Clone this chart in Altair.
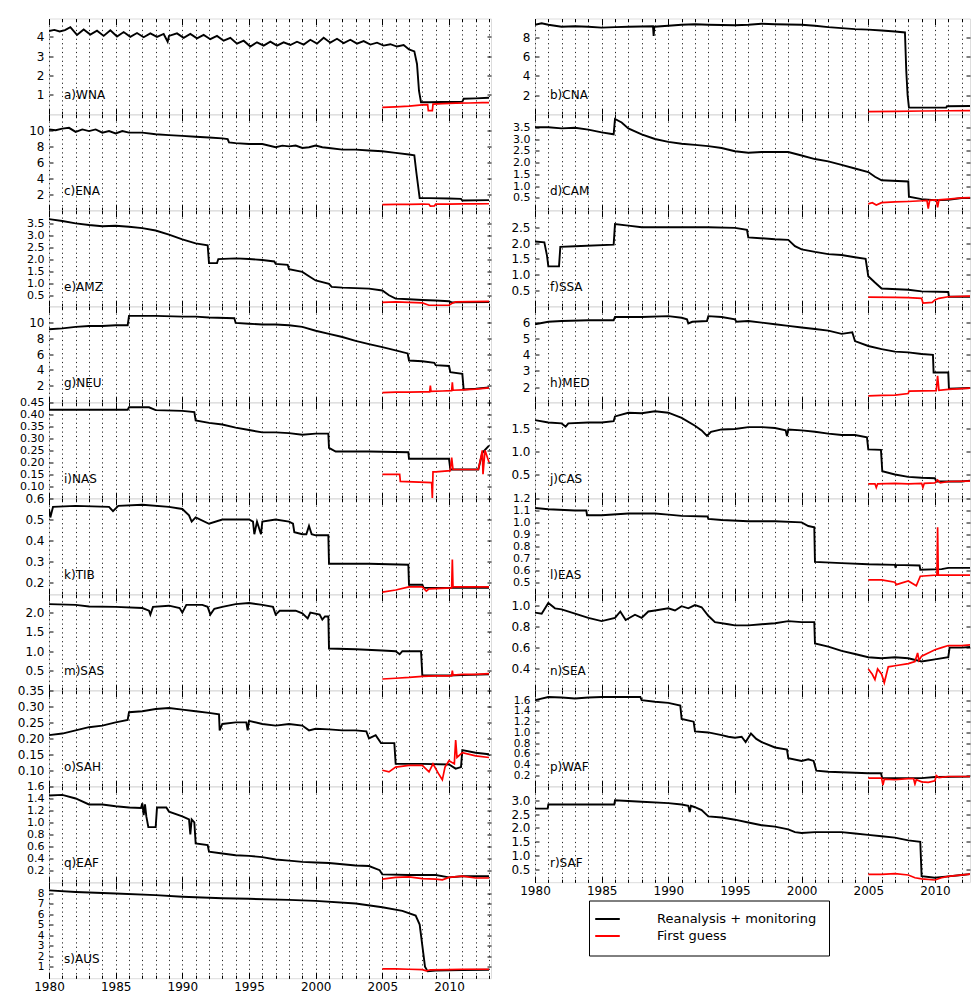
import altair as alt
import pandas as pd

# ---------------- data ----------------
SERIES = ["Reanalysis + monitoring", "First guess"]
YEAR_MAJOR = [1980, 1985, 1990, 1995, 2000, 2005, 2010]
YEAR_MINOR = list(range(1980, 2014))

WNA_REA = [(1980.0,4.30),(1980.4,4.36),(1980.8,4.28),(1981.2,4.35),(1981.6,4.50),(1982.1,4.10),(1982.6,4.38),(1983.1,4.12),(1983.6,4.32),(1984.1,4.05),(1984.6,4.34),(1985.1,4.02),(1985.6,4.25),(1986.1,4.00),(1986.6,4.20),(1987.1,3.98),(1987.6,4.18),(1988.1,4.00),(1988.6,4.15),(1988.9,3.75),(1989.0,4.05),(1989.6,4.18),(1990.1,3.95),(1990.6,4.15),(1991.1,3.92),(1991.6,4.10),(1992.1,3.88),(1992.6,4.05),(1993.1,3.80),(1993.6,3.95),(1994.1,3.65),(1994.6,3.80),(1995.1,3.50),(1995.6,3.72),(1996.1,3.55),(1996.6,3.75),(1997.1,3.55),(1997.6,3.72),(1998.1,3.58),(1998.6,3.75),(1999.1,3.60),(1999.6,3.85),(2000.1,3.65),(2000.6,3.95),(2001.1,3.70),(2001.6,3.90),(2002.1,3.68),(2002.6,3.85),(2003.1,3.65),(2003.6,3.78),(2004.1,3.60),(2004.6,3.70),(2005.1,3.55),(2005.6,3.62),(2006.1,3.50),(2006.6,3.58),(2007.0,3.35),(2007.4,3.25),(2007.6,2.60),(2007.75,1.20),(2007.9,0.62),(2008.5,0.62),(2009.5,0.63),(2010.5,0.63),(2011.0,0.65),(2011.1,0.80),(2012.0,0.82),(2013.0,0.85)]
WNA_FG = [(2005.0,0.35),(2006.0,0.38),(2007.0,0.42),(2008.0,0.48),(2008.4,0.50),(2008.45,0.18),(2008.75,0.18),(2008.8,0.52),(2009.5,0.55),(2010.5,0.57),(2011.5,0.58),(2012.5,0.60),(2013.0,0.60)]

CNA_REA = [(1980.0,9.3),(1980.5,9.45),(1981.0,9.3),(1981.5,9.2),(1982.0,9.1),(1983.0,9.15),(1984.0,9.1),(1985.0,9.0),(1986.0,9.05),(1987.0,9.1),(1988.85,9.15),(1988.9,8.15),(1988.95,9.1),(1990.0,9.2),(1991.0,9.3),(1992.0,9.35),(1993.0,9.3),(1995.0,9.25),(1996.0,9.3),(1997.0,9.4),(1998.0,9.35),(2000.0,9.3),(2001.0,9.2),(2002.0,9.05),(2003.0,8.95),(2004.0,8.85),(2005.0,8.8),(2006.0,8.7),(2007.0,8.6),(2007.75,8.5),(2007.85,4.5),(2007.95,2.0),(2008.05,0.7),(2010.85,0.72),(2010.9,0.85),(2013.0,0.88)]
CNA_FG = [(2005.0,0.28),(2007.0,0.32),(2009.0,0.35),(2011.0,0.38),(2013.0,0.40)]

ENA_REA = [(1980.0,10.1),(1980.5,10.0),(1981.0,10.2),(1981.5,10.3),(1982.0,9.8),(1982.5,10.1),(1983.0,9.9),(1983.5,10.1),(1984.0,9.7),(1984.5,9.9),(1985.0,9.6),(1985.5,9.9),(1986.0,9.7),(1987.0,9.7),(1988.0,9.5),(1989.0,9.4),(1990.0,9.3),(1991.0,9.2),(1992.0,9.1),(1993.0,9.0),(1993.4,8.9),(1993.5,8.5),(1994.0,8.4),(1995.0,8.3),(1996.0,8.3),(1997.0,7.9),(1997.5,8.1),(1998.0,8.0),(1998.5,8.1),(1999.0,7.8),(1999.5,7.9),(2000.0,8.1),(2000.5,7.9),(2001.0,7.8),(2002.0,7.6),(2003.0,7.6),(2004.0,7.5),(2005.0,7.4),(2006.0,7.2),(2007.0,7.0),(2007.4,6.9),(2007.55,4.8),(2007.8,1.6),(2008.5,1.6),(2010.0,1.55),(2010.9,1.5),(2011.0,1.3),(2013.0,1.35)]
ENA_FG = [(2005.0,0.80),(2006.0,0.82),(2007.0,0.82),(2008.0,0.85),(2008.5,0.84),(2008.6,0.60),(2008.9,0.62),(2009.0,0.85),(2010.0,0.85),(2011.0,0.88),(2012.0,0.88),(2013.0,0.90)]

CAM_REA = [(1980.0,3.5),(1981.0,3.5),(1982.0,3.45),(1983.0,3.48),(1984.0,3.4),(1985.0,3.28),(1985.9,3.2),(1986.0,3.85),(1986.5,3.7),(1987.0,3.45),(1988.0,3.2),(1989.0,3.0),(1990.0,2.88),(1991.0,2.8),(1992.0,2.75),(1993.0,2.7),(1994.0,2.62),(1995.0,2.48),(1996.0,2.42),(1997.0,2.45),(1998.0,2.45),(1999.0,2.45),(2000.0,2.3),(2001.0,2.15),(2002.0,2.05),(2003.0,1.9),(2004.0,1.75),(2005.0,1.6),(2005.5,1.4),(2006.0,1.25),(2008.0,1.2),(2008.05,0.55),(2009.0,0.45),(2010.0,0.40),(2011.0,0.42),(2012.0,0.50),(2013.0,0.50)]
CAM_FG = [(2005.0,0.25),(2005.3,0.30),(2005.6,0.20),(2006.0,0.30),(2007.0,0.33),(2008.0,0.35),(2009.0,0.38),(2009.4,0.40),(2009.5,0.05),(2009.6,0.40),(2010.1,0.42),(2010.2,0.10),(2010.3,0.42),(2011.0,0.45),(2012.0,0.50),(2013.0,0.52)]

AMZ_REA = [(1980.0,3.7),(1981.0,3.62),(1982.0,3.52),(1983.0,3.45),(1984.0,3.40),(1985.0,3.42),(1986.0,3.38),(1987.0,3.32),(1988.0,3.22),(1989.0,3.05),(1990.0,2.85),(1991.0,2.68),(1991.9,2.60),(1992.0,1.85),(1992.6,1.85),(1992.7,2.02),(1994.0,2.05),(1995.0,2.02),(1996.0,1.98),(1996.9,1.92),(1997.0,1.82),(1997.9,1.78),(1998.0,1.60),(1999.0,1.48),(1999.5,1.30),(2000.0,1.12),(2001.0,0.98),(2001.2,0.85),(2002.0,0.82),(2003.0,0.80),(2004.0,0.78),(2005.0,0.70),(2005.5,0.50),(2006.0,0.36),(2007.0,0.33),(2008.0,0.30),(2009.0,0.28),(2010.0,0.25),(2010.2,0.20),(2013.0,0.21)]
AMZ_FG = [(2005.0,0.20),(2006.0,0.22),(2007.0,0.20),(2008.0,0.18),(2008.5,0.08),(2010.0,0.08),(2010.2,0.15),(2010.5,0.22),(2013.0,0.24)]

SSA_REA = [(1980.0,2.05),(1980.7,2.02),(1980.9,1.6),(1981.0,1.26),(1981.8,1.26),(1981.9,1.88),(1983.0,1.9),(1985.9,1.95),(1986.0,2.6),(1987.0,2.55),(1988.0,2.5),(1990.0,2.5),(1993.0,2.5),(1995.0,2.48),(1995.9,2.42),(1996.0,2.18),(1998.0,2.12),(1999.0,2.1),(1999.5,1.9),(2000.0,1.8),(2001.0,1.72),(2002.0,1.65),(2003.0,1.62),(2004.0,1.55),(2004.8,1.5),(2005.0,0.95),(2005.5,0.75),(2006.0,0.56),(2008.0,0.52),(2009.0,0.47),(2011.0,0.45),(2011.05,0.30),(2013.0,0.30)]
SSA_FG = [(2005.0,0.29),(2007.0,0.28),(2008.0,0.27),(2009.0,0.25),(2009.1,0.10),(2009.8,0.12),(2010.0,0.20),(2010.3,0.25),(2011.0,0.30),(2013.0,0.32)]

NEU_REA = [(1980.0,9.2),(1981.0,9.3),(1982.0,9.5),(1983.0,9.6),(1984.0,9.6),(1985.0,9.7),(1985.9,9.7),(1986.0,10.9),(1988.0,10.9),(1990.0,10.8),(1991.0,10.8),(1992.0,10.7),(1993.9,10.6),(1994.0,10.0),(1995.0,9.9),(1996.0,9.8),(1997.0,9.8),(1998.0,9.7),(1999.0,9.5),(2000.0,9.0),(2001.0,8.6),(2002.0,8.2),(2003.0,7.7),(2004.0,7.3),(2005.0,6.9),(2006.0,6.5),(2006.9,6.1),(2007.0,5.2),(2008.0,5.1),(2008.9,4.9),(2009.0,4.6),(2010.0,4.5),(2010.1,3.7),(2011.0,3.5),(2011.1,1.5),(2012.0,1.6),(2013.0,1.75)]
NEU_FG = [(2005.0,1.1),(2006.0,1.15),(2007.0,1.15),(2008.0,1.2),(2008.55,1.2),(2008.6,2.0),(2008.65,1.25),(2009.5,1.3),(2010.2,1.35),(2010.25,2.4),(2010.3,1.4),(2011.0,1.45),(2012.0,1.55),(2013.0,1.7)]

MED_REA = [(1980.0,5.9),(1981.0,6.05),(1982.0,6.1),(1984.0,6.15),(1985.9,6.15),(1986.0,6.35),(1988.0,6.35),(1990.0,6.4),(1991.0,6.3),(1991.4,6.2),(1991.5,5.95),(1991.8,6.05),(1992.9,6.1),(1993.0,6.4),(1994.0,6.35),(1995.0,6.2),(1995.1,6.05),(1996.0,6.1),(1997.0,6.0),(1998.0,5.9),(1999.0,5.8),(2000.0,5.7),(2001.0,5.6),(2002.0,5.5),(2003.0,5.3),(2003.8,5.4),(2004.0,4.85),(2005.0,4.55),(2006.0,4.35),(2007.0,4.2),(2008.0,4.15),(2009.0,4.05),(2009.85,4.0),(2009.9,2.9),(2011.0,2.9),(2011.05,1.9),(2013.0,1.95)]
MED_FG = [(2005.0,1.45),(2006.0,1.48),(2007.0,1.5),(2008.0,1.6),(2008.05,1.75),(2010.1,1.78),(2010.2,2.7),(2010.3,1.8),(2011.0,1.85),(2012.0,1.9),(2013.0,1.95)]

NAS_REA = [(1980.0,0.42),(1983.0,0.42),(1985.9,0.42),(1986.0,0.43),(1987.5,0.43),(1988.0,0.418),(1990.0,0.415),(1990.9,0.41),(1991.0,0.375),(1992.0,0.365),(1993.0,0.358),(1994.0,0.345),(1995.0,0.335),(1996.0,0.325),(1997.0,0.325),(1998.0,0.322),(1999.0,0.315),(2000.0,0.32),(2000.95,0.32),(2001.0,0.26),(2001.5,0.245),(2004.0,0.245),(2006.95,0.242),(2007.0,0.215),(2010.0,0.215),(2010.1,0.17),(2012.2,0.17),(2012.5,0.24),(2013.0,0.27)]
NAS_FG = [(2005.0,0.15),(2006.3,0.15),(2006.35,0.12),(2008.7,0.115),(2008.75,0.05),(2008.8,0.16),(2009.0,0.16),(2010.1,0.165),(2010.2,0.22),(2010.3,0.17),(2012.2,0.17),(2012.5,0.25),(2012.55,0.15),(2012.7,0.25),(2013.0,0.20)]

CAS_REA = [(1980.0,1.67),(1981.0,1.62),(1982.0,1.6),(1982.3,1.53),(1982.5,1.6),(1984.0,1.62),(1985.0,1.62),(1985.9,1.65),(1986.0,1.75),(1987.0,1.83),(1988.0,1.82),(1989.0,1.86),(1990.0,1.83),(1991.0,1.72),(1992.0,1.55),(1992.5,1.45),(1992.9,1.33),(1993.2,1.42),(1994.0,1.47),(1995.0,1.48),(1996.0,1.52),(1997.0,1.52),(1998.0,1.5),(1998.8,1.45),(1998.9,1.33),(1999.0,1.47),(2000.0,1.45),(2001.0,1.42),(2002.0,1.38),(2003.0,1.35),(2004.0,1.35),(2004.9,1.3),(2005.0,1.04),(2005.95,1.03),(2006.05,0.57),(2007.0,0.50),(2008.0,0.45),(2009.0,0.43),(2010.0,0.42),(2010.1,0.35),(2012.0,0.35),(2013.0,0.38)]
CAS_FG = [(2005.0,0.30),(2005.5,0.30),(2005.6,0.22),(2005.7,0.30),(2007.0,0.31),(2008.0,0.30),(2009.0,0.31),(2009.1,0.22),(2009.2,0.31),(2010.0,0.32),(2010.2,0.38),(2010.4,0.32),(2011.0,0.35),(2013.0,0.36)]

TIB_REA = [(1980.0,0.55),(1980.1,0.51),(1980.3,0.56),(1982.0,0.565),(1984.5,0.56),(1984.8,0.54),(1985.2,0.565),(1987.0,0.57),(1989.0,0.56),(1990.0,0.55),(1990.5,0.52),(1990.7,0.49),(1991.0,0.51),(1992.0,0.48),(1993.0,0.50),(1995.0,0.50),(1995.3,0.49),(1995.4,0.43),(1995.6,0.49),(1995.9,0.43),(1996.0,0.49),(1997.0,0.50),(1998.0,0.49),(1998.3,0.48),(1998.4,0.44),(1999.0,0.43),(1999.3,0.43),(1999.5,0.47),(1999.7,0.43),(2000.0,0.425),(2000.95,0.425),(2001.0,0.29),(2004.0,0.29),(2006.95,0.285),(2007.0,0.19),(2008.0,0.19),(2008.1,0.175),(2013.0,0.175)]
TIB_FG = [(2005.0,0.155),(2006.0,0.165),(2007.0,0.18),(2008.0,0.18),(2008.3,0.16),(2008.5,0.17),(2010.2,0.175),(2010.25,0.31),(2010.3,0.18),(2013.0,0.18)]

EAS_REA = [(1980.0,1.12),(1981.0,1.11),(1983.0,1.10),(1983.85,1.10),(1983.9,1.06),(1985.0,1.06),(1987.0,1.075),(1989.0,1.075),(1990.0,1.065),(1991.0,1.055),(1992.95,1.05),(1993.0,1.03),(1994.0,1.02),(1996.0,1.01),(1998.0,1.01),(2000.0,1.0),(2000.5,0.97),(2000.95,0.96),(2001.0,0.67),(2003.0,0.66),(2005.0,0.65),(2007.0,0.645),(2007.05,0.62),(2007.1,0.645),(2008.85,0.64),(2008.9,0.605),(2010.5,0.61),(2011.0,0.62),(2013.0,0.62)]
EAS_FG = [(2005.0,0.52),(2006.0,0.52),(2007.0,0.50),(2007.1,0.48),(2008.0,0.51),(2008.6,0.47),(2008.9,0.55),(2010.15,0.56),(2010.2,0.96),(2010.25,0.56),(2013.0,0.56)]

SAS_REA = [(1980.0,2.22),(1982.0,2.2),(1983.0,2.16),(1985.0,2.15),(1987.0,2.12),(1987.5,2.05),(1987.6,1.95),(1987.8,2.15),(1989.0,2.18),(1989.8,2.12),(1990.0,2.0),(1990.3,2.2),(1991.5,2.2),(1991.9,2.15),(1992.1,1.95),(1992.4,2.1),(1993.0,2.15),(1994.0,2.22),(1995.0,2.25),(1996.0,2.2),(1996.8,2.15),(1997.0,1.95),(1997.3,2.05),(1998.5,2.05),(1999.0,1.98),(1999.4,1.85),(1999.6,2.0),(2000.3,1.95),(2000.5,1.82),(2000.7,1.9),(2000.95,1.9),(2001.0,1.07),(2003.0,1.05),(2005.0,1.02),(2006.0,1.0),(2006.3,0.92),(2006.5,1.0),(2007.9,1.0),(2008.0,0.37),(2010.0,0.37),(2011.0,0.38),(2013.0,0.40)]
SAS_FG = [(2005.0,0.28),(2006.0,0.30),(2007.0,0.32),(2008.0,0.35),(2009.0,0.36),(2010.2,0.36),(2010.25,0.50),(2010.3,0.38),(2011.0,0.40),(2012.0,0.40),(2013.0,0.42)]

SEA_REA = [(1980.0,0.93),(1980.5,0.92),(1981.0,1.02),(1981.5,0.97),(1982.0,0.96),(1983.0,0.92),(1984.0,0.88),(1985.0,0.85),(1986.0,0.88),(1986.4,0.94),(1986.8,0.86),(1987.5,0.91),(1988.0,0.88),(1988.5,0.94),(1989.0,0.95),(1990.0,0.97),(1990.5,0.95),(1991.0,0.99),(1991.5,0.97),(1992.0,1.0),(1992.5,0.98),(1993.0,0.90),(1993.5,0.84),(1994.5,0.82),(1995.0,0.81),(1996.0,0.81),(1997.0,0.82),(1998.0,0.83),(1999.0,0.85),(2000.0,0.84),(2000.95,0.84),(2001.0,0.64),(2002.0,0.61),(2003.0,0.57),(2004.0,0.54),(2005.0,0.51),(2006.0,0.50),(2007.0,0.51),(2008.0,0.50),(2009.0,0.47),(2010.0,0.49),(2011.0,0.51),(2011.1,0.60),(2012.0,0.60),(2013.0,0.61)]
SEA_FG = [(2005.0,0.40),(2005.3,0.35),(2005.5,0.30),(2005.7,0.40),(2006.0,0.35),(2006.2,0.27),(2006.5,0.42),(2007.0,0.43),(2008.0,0.45),(2008.5,0.47),(2008.7,0.55),(2008.8,0.48),(2009.0,0.52),(2009.5,0.55),(2010.0,0.58),(2010.5,0.60),(2011.0,0.62),(2012.0,0.62),(2013.0,0.63)]

SAH_REA = [(1980.0,0.21),(1981.0,0.215),(1982.0,0.225),(1983.0,0.235),(1984.0,0.24),(1985.0,0.25),(1985.9,0.258),(1986.0,0.282),(1987.0,0.285),(1988.0,0.292),(1989.0,0.295),(1990.0,0.29),(1991.0,0.285),(1992.0,0.28),(1992.75,0.275),(1992.8,0.225),(1993.0,0.245),(1994.0,0.25),(1994.8,0.25),(1994.9,0.225),(1995.0,0.255),(1996.0,0.245),(1997.0,0.24),(1998.0,0.245),(1999.0,0.24),(1999.5,0.225),(2000.0,0.23),(2001.0,0.228),(2002.0,0.225),(2003.0,0.225),(2003.8,0.222),(2004.0,0.20),(2004.5,0.21),(2004.9,0.185),(2005.9,0.185),(2006.0,0.12),(2008.0,0.12),(2010.0,0.118),(2010.5,0.105),(2010.9,0.11),(2011.0,0.163),(2012.0,0.155),(2013.0,0.15)]
SAH_FG = [(2005.0,0.10),(2005.5,0.095),(2006.0,0.11),(2007.0,0.115),(2008.0,0.115),(2008.5,0.095),(2008.8,0.12),(2009.2,0.09),(2009.5,0.07),(2009.7,0.11),(2010.0,0.13),(2010.4,0.12),(2010.5,0.195),(2010.6,0.14),(2011.0,0.155),(2012.0,0.145),(2013.0,0.14)]

WAF_REA = [(1980.0,1.6),(1981.0,1.66),(1982.0,1.65),(1983.0,1.63),(1984.0,1.65),(1985.0,1.66),(1987.0,1.66),(1987.9,1.66),(1988.0,1.6),(1989.0,1.57),(1990.0,1.55),(1990.9,1.5),(1991.0,1.25),(1991.9,1.2),(1992.0,1.02),(1993.0,1.0),(1994.0,0.95),(1994.5,0.92),(1995.0,0.9),(1995.5,0.92),(1995.8,0.82),(1996.2,0.98),(1996.6,0.88),(1997.0,0.82),(1998.0,0.72),(1998.9,0.68),(1999.0,0.52),(2000.0,0.47),(2000.5,0.5),(2000.9,0.47),(2001.1,0.29),(2002.0,0.27),(2004.0,0.25),(2005.0,0.24),(2005.95,0.24),(2006.05,0.15),(2008.0,0.15),(2009.0,0.15),(2010.0,0.17),(2013.0,0.18)]
WAF_FG = [(2005.0,0.15),(2006.0,0.15),(2006.1,0.02),(2006.2,0.13),(2007.0,0.12),(2008.0,0.14),(2008.4,0.14),(2008.5,0.04),(2008.6,0.12),(2009.0,0.08),(2009.5,0.07),(2010.0,0.10),(2010.1,0.20),(2010.3,0.16),(2011.0,0.18),(2013.0,0.18)]

EAF_REA = [(1980.0,1.45),(1981.0,1.46),(1982.0,1.4),(1983.0,1.3),(1984.0,1.3),(1985.0,1.27),(1986.0,1.25),(1986.9,1.24),(1987.0,1.32),(1987.1,1.12),(1987.2,1.3),(1987.3,1.1),(1987.45,0.92),(1988.0,0.92),(1988.1,1.25),(1988.8,1.25),(1989.0,1.18),(1990.0,1.1),(1990.5,1.05),(1990.6,0.8),(1990.7,1.05),(1990.9,1.0),(1991.0,0.65),(1991.9,0.62),(1992.0,0.51),(1993.0,0.48),(1994.0,0.45),(1995.0,0.44),(1996.0,0.42),(1997.0,0.38),(1998.0,0.36),(1999.0,0.34),(2000.0,0.33),(2001.0,0.32),(2002.0,0.30),(2003.0,0.28),(2004.0,0.27),(2004.8,0.20),(2005.0,0.13),(2007.0,0.12),(2009.0,0.12),(2010.0,0.08),(2011.0,0.10),(2013.0,0.10)]
EAF_FG = [(2005.0,0.05),(2006.0,0.08),(2007.0,0.09),(2008.0,0.06),(2009.0,0.05),(2009.5,0.04),(2010.0,0.08),(2011.0,0.10),(2012.0,0.07),(2013.0,0.07)]

SAF_REA = [(1980.0,2.7),(1980.95,2.7),(1981.0,2.85),(1983.0,2.85),(1985.95,2.85),(1986.0,3.0),(1988.0,2.95),(1990.0,2.9),(1991.0,2.85),(1991.5,2.8),(1991.6,2.58),(1991.7,2.8),(1992.0,2.75),(1992.5,2.65),(1993.0,2.42),(1994.0,2.38),(1995.0,2.3),(1996.0,2.2),(1997.0,2.1),(1998.0,2.05),(1999.0,1.95),(1999.5,1.85),(2000.0,1.82),(2001.0,1.85),(2002.0,1.85),(2003.0,1.85),(2004.0,1.8),(2005.0,1.75),(2006.0,1.7),(2007.0,1.65),(2008.0,1.55),(2008.9,1.5),(2009.0,0.26),(2010.0,0.20),(2011.0,0.25),(2012.0,0.30),(2013.0,0.35)]
SAF_FG = [(2005.0,0.32),(2006.0,0.32),(2007.0,0.35),(2008.0,0.30),(2008.5,0.20),(2009.0,0.16),(2010.0,0.12),(2010.5,0.20),(2011.0,0.25),(2013.0,0.35)]

AUS_REA = [(1980.0,8.25),(1982.0,8.1),(1985.0,7.95),(1988.0,7.8),(1990.0,7.65),(1993.0,7.5),(1995.0,7.45),(1998.0,7.35),(2000.0,7.25),(2003.0,7.0),(2005.0,6.65),(2006.5,6.3),(2007.5,5.85),(2007.8,5.0),(2008.0,3.0),(2008.2,1.0),(2008.4,0.55),(2009.0,0.62),(2011.0,0.68),(2013.0,0.70)]
AUS_FG = [(2005.0,0.78),(2006.0,0.78),(2007.0,0.75),(2008.0,0.72),(2008.3,0.60),(2008.6,0.70),(2010.0,0.72),(2011.0,0.75),(2012.0,0.75),(2013.0,0.75)]

# label, reanalysis, first guess, y-domain, y-ticks, tick format, tick-label size
PANELS = [
    ("a)WNA", WNA_REA, WNA_FG, [0.0, 4.95], [1, 2, 3, 4], "d", 12),
    ("b)CNA", CNA_REA, CNA_FG, [0.02, 9.95], [2, 4, 6, 8], "d", 12),
    ("c)ENA", ENA_REA, ENA_FG, [0.1, 11.95], [2, 4, 6, 8, 10], "d", 12),
    ("d)CAM", CAM_REA, CAM_FG, [-0.02, 4.04], [0.5, 1.0, 1.5, 2.0, 2.5, 3.0, 3.5], ".1f", 11),
    ("e)AMZ", AMZ_REA, AMZ_FG, [0.04, 4.06], [0.5, 1.0, 1.5, 2.0, 2.5, 3.0, 3.5], ".1f", 11),
    ("f)SSA", SSA_REA, SSA_FG, [0.0, 3.03], [0.5, 1.0, 1.5, 2.0, 2.5], ".1f", 12),
    ("g)NEU", NEU_REA, NEU_FG, [-0.13, 12.1], [2, 4, 6, 8, 10], "d", 12),
    ("h)MED", MED_REA, MED_FG, [1.06, 7.0], [2, 3, 4, 5, 6], "d", 12),
    ("i)NAS", NAS_REA, NAS_FG, [0.05, 0.45], [0.10, 0.15, 0.20, 0.25, 0.30, 0.35, 0.40, 0.45], ".2f", 11),
    ("j)CAS", CAS_REA, CAS_FG, [-0.01, 2.05], [0.5, 1.0, 1.5], ".1f", 12),
    ("k)TIB", TIB_REA, TIB_FG, [0.145, 0.6], [0.2, 0.3, 0.4, 0.5, 0.6], ".1f", 12),
    ("l)EAS", EAS_REA, EAS_FG, [0.4, 1.2], [0.5, 0.6, 0.7, 0.8, 0.9, 1.0, 1.1, 1.2], ".1f", 11),
    ("m)SAS", SAS_REA, SAS_FG, [-0.01, 2.47], [0.5, 1.0, 1.5, 2.0], ".1f", 12),
    ("n)SEA", SEA_REA, SEA_FG, [0.2, 1.1], [0.4, 0.6, 0.8, 1.0], ".1f", 12),
    ("o)SAH", SAH_REA, SAH_FG, [0.05, 0.35], [0.10, 0.15, 0.20, 0.25, 0.30, 0.35], ".2f", 12),
    ("p)WAF", WAF_REA, WAF_FG, [0.0, 1.78], [0.2, 0.4, 0.6, 0.8, 1.0, 1.2, 1.4, 1.6], ".1f", 10.5),
    ("q)EAF", EAF_REA, EAF_FG, [0.0, 1.6], [0.2, 0.4, 0.6, 0.8, 1.0, 1.2, 1.4, 1.6], ".1f", 11),
    ("r)SAF", SAF_REA, SAF_FG, [0.04, 3.5], [0.5, 1.0, 1.5, 2.0, 2.5, 3.0], ".1f", 12),
    ("s)AUS", AUS_REA, AUS_FG, [-0.1, 9.0], [1, 2, 3, 4, 5, 6, 7, 8], "d", 10.5),
]
X_END_LEFT = 2013.15
X_END_RIGHT = 2012.63

# ---------------- layout / style ----------------
LEFT_W, RIGHT_W, H = 442, 435, 95.7
FONT = "DejaVu Sans"

COLOR_SCALE = alt.Scale(domain=SERIES, range=["black", "red"])
LEGEND = alt.Legend(
    title=None, orient="none", legendX=540, legendY=882,
    symbolType="M-2.3,0H2.3", symbolSize=114, symbolStrokeWidth=2,
    labelFont=FONT, labelFontSize=13, labelColor="black", labelLimit=0,
    labelOffset=43, padding=12, rowPadding=3,
    strokeColor="black", fillColor="white",
)


def axis(orient, values, size, labels=False, fmt=None, grid=False, pad=4, fs=12):
    kw = dict(orient=orient, values=values, tickSize=size, offset=-size,
              labels=labels, title=None, domain=False, grid=grid,
              labelOverlap=False, labelFlush=False, labelPadding=pad,
              labelFont=FONT, labelFontSize=fs, labelColor="black",
              tickColor="black", tickWidth=1, minExtent=0)
    if fmt:
        kw["format"] = fmt
    if grid:
        kw.update(gridDash=[1.2, 3.2], gridColor="black", gridOpacity=0.85, gridWidth=1)
    return alt.Axis(**kw)


def panel(idx, label, rea, fg, ydom, yticks, fmt, fs):
    right = idx % 2 == 1
    bottom = label[0] in ("r", "s")
    width = RIGHT_W if right else LEFT_W
    xs = alt.Scale(domain=[1980, X_END_RIGHT if right else X_END_LEFT], nice=False, zero=False)
    ys = alt.Scale(domain=ydom, nice=False, zero=False)

    df_r = pd.DataFrame(rea, columns=["t", "v"]); df_r["series"] = SERIES[0]
    df_f = pd.DataFrame(fg, columns=["t", "v"]); df_f["series"] = SERIES[1]
    color = alt.Color("series:N", scale=COLOR_SCALE, legend=LEGEND)

    black = alt.Chart(df_r).mark_line(strokeWidth=1.9, clip=True).encode(
        x=alt.X("t:Q", scale=xs, axis=axis("bottom", YEAR_MAJOR, 6, labels=bottom, fmt="d", pad=3)),
        y=alt.Y("v:Q", scale=ys, axis=axis("left", yticks, 4, labels=True, fmt=fmt, pad=5, fs=fs)),
        color=color,
    )
    red = alt.Chart(df_f).mark_line(strokeWidth=1.7, clip=True).encode(
        x=alt.X("t:Q", scale=xs, axis=axis("bottom", YEAR_MINOR, 3)),
        y=alt.Y("v:Q", scale=ys, axis=axis("right", yticks, 4)),
        color=color,
    )
    tick_df = pd.DataFrame({"t": [1980.0], "v": [ydom[0]]})
    top_major = alt.Chart(tick_df).mark_point(opacity=0).encode(
        x=alt.X("t:Q", scale=xs, axis=axis("top", YEAR_MAJOR, 6)),
        y=alt.Y("v:Q", scale=ys, axis=None))
    top_minor = alt.Chart(tick_df).mark_point(opacity=0).encode(
        x=alt.X("t:Q", scale=xs, axis=axis("top", YEAR_MINOR, 3, grid=True)),
        y=alt.Y("v:Q", scale=ys, axis=None))
    text = alt.Chart(pd.DataFrame({"name": [label]})).mark_text(
        align="left", baseline="middle", font=FONT, fontSize=12, color="black",
        dx=15, dy=-19,
    ).encode(x=alt.value(0), y=alt.value(H), text="name:N")

    return alt.layer(black, red, top_major, top_minor, text).resolve_axis(
        x="independent", y="independent").properties(width=width, height=H)


charts = [panel(i, *p) for i, p in enumerate(PANELS)]

chart = alt.concat(
    *charts, columns=2, spacing={"row": 0, "column": 44}, bounds="flush"
).properties(
    padding={"left": 16, "top": 17.5, "right": 0, "bottom": 0}
).configure_view(
    stroke="black", strokeWidth=1.4
).configure_axis(
    labelFont=FONT, labelFontSize=12, labelColor="black", tickWidth=1
).configure(background="white")

chart.save("out.html", embed_options={"renderer": "svg", "actions": False})
